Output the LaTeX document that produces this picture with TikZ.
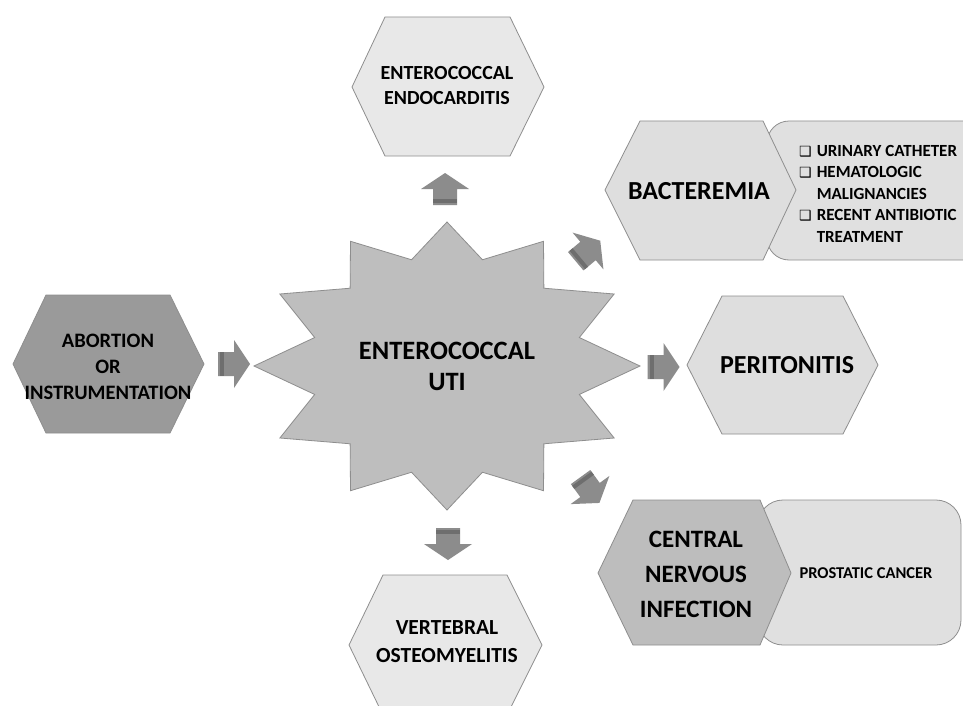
\documentclass[tikz,border=0pt]{standalone}
\usepackage{fontspec}
\setmainfont{Carlito}
\newfontfamily\dejavu{DejaVu Sans}
\definecolor{arr}{HTML}{8C8C8C}
\definecolor{arrband}{HTML}{6E6E6E}
\definecolor{edge}{HTML}{8E8E8E}
\definecolor{starfill}{HTML}{BEBEBE}
\definecolor{hexdark}{HTML}{9A9A9A}
\definecolor{hexmid}{HTML}{BDBDBD}
\definecolor{hexlight}{HTML}{DEDEDE}
\definecolor{hexvlight}{HTML}{E8E8E8}
\definecolor{boxfill}{HTML}{E0E0E0}
\newcommand\blockarr[3]{%
  \begin{scope}[shift={(#1,#2)},rotate=#3]
    \fill[arr] (-16,-12) -- (0,-12) -- (0,-24) -- (16,0) -- (0,24) -- (0,12) -- (-16,12) -- cycle;
    \fill[arrband] (-14,-12) rectangle (-10,12);
  \end{scope}}
\newcommand\chk{{\dejavu\fontsize{14}{14}\selectfont ❑}}
\tikzset{
  shp/.style={draw=edge, line width=0.8pt, line join=miter},
  lbl/.style={align=center, inner sep=0pt, font=\bfseries},
}
\begin{document}
\begin{tikzpicture}[x=1pt,y=-1pt]
\clip (0,0) rectangle (963,706);
\fill[white] (0,0) rectangle (963,706);

% star
\draw[shp, fill=starfill] (447,222)
  \foreach \i in {1,...,23}{ -- ({447+(mod(\i,2)==0 ? 193 : 137)*cos(90-15*\i)},{366-(mod(\i,2)==0 ? 144 : 110)*sin(90-15*\i)}) } -- cycle;
\node[lbl, font=\bfseries\fontsize{26.5}{31}\selectfont] (uti) at (447,366) {ENTEROCOCCAL\\UTI};

% top hexagon
\draw[shp, fill=hexvlight] (352,87) -- (385,17) -- (510,17) -- (544,87) -- (510,156) -- (385,156) -- cycle;
\node[lbl, font=\bfseries\fontsize{20}{25}\selectfont] (endo) at (447,86) {ENTEROCOCCAL\\ENDOCARDITIS};

% bottom hexagon
\draw[shp, fill=hexvlight] (349,645) -- (383,575) -- (507,575) -- (542,645) -- (507,715) -- (383,715) -- cycle;
\node[lbl, font=\bfseries\fontsize{21.5}{28}\selectfont] (verteb) at (447,642) {VERTEBRAL\\OSTEOMYELITIS};

% left hexagon
\draw[shp, fill=hexdark] (13,364) -- (46,295) -- (170,295) -- (204,364) -- (170,433) -- (46,433) -- cycle;
\node[lbl, font=\bfseries\fontsize{20.5}{26}\selectfont] (abort) at (108,367) {ABORTION\\OR\\INSTRUMENTATION};

% bacteremia box + hexagon
\draw[shp, fill=boxfill, rounded corners=22] (767,121) rectangle (1010,260);
\draw[shp, fill=hexlight] (605,190) -- (640,121) -- (763,121) -- (796,190) -- (763,260) -- (640,260) -- cycle;
\node[lbl, font=\bfseries\fontsize{26}{30}\selectfont] (bact) at (699,191) {BACTEREMIA};
\node[anchor=west, inner sep=0pt, font=\bfseries\fontsize{17}{21.5}\selectfont] (risks) at (799,195)
  {\begin{tabular}{@{}l@{\hspace{5pt}}l@{}}
   \chk & URINARY CATHETER\\
   \chk & HEMATOLOGIC\\
   & MALIGNANCIES\\
   \chk & RECENT ANTIBIOTIC\\
   & TREATMENT
   \end{tabular}};

% peritonitis
\draw[shp, fill=hexlight] (687,365) -- (722,296) -- (843,296) -- (878,365) -- (843,434) -- (722,434) -- cycle;
\node[lbl, font=\bfseries\fontsize{26}{30}\selectfont] (perit) at (787,365) {PERITONITIS};

% CNS box + hexagon
\draw[shp, fill=boxfill, rounded corners=25] (758,500) rectangle (961,645);
\draw[shp, fill=hexmid] (598,573) -- (633,500) -- (760,500) -- (791,573) -- (760,645) -- (633,645) -- cycle;
\node[lbl, font=\bfseries\fontsize{25}{35}\selectfont] (cns) at (696,574) {CENTRAL\\NERVOUS\\INFECTION};
\node[lbl, font=\bfseries\fontsize{16.5}{20}\selectfont] (prost) at (866,573) {PROSTATIC CANCER};

% block arrows
\blockarr{445}{189}{90}
\blockarr{234}{364}{0}
\blockarr{663.5}{367}{0}
\blockarr{448}{544}{-90}
\blockarr{588}{251}{40}
\blockarr{590}{490}{-54}
\end{tikzpicture}
\end{document}
